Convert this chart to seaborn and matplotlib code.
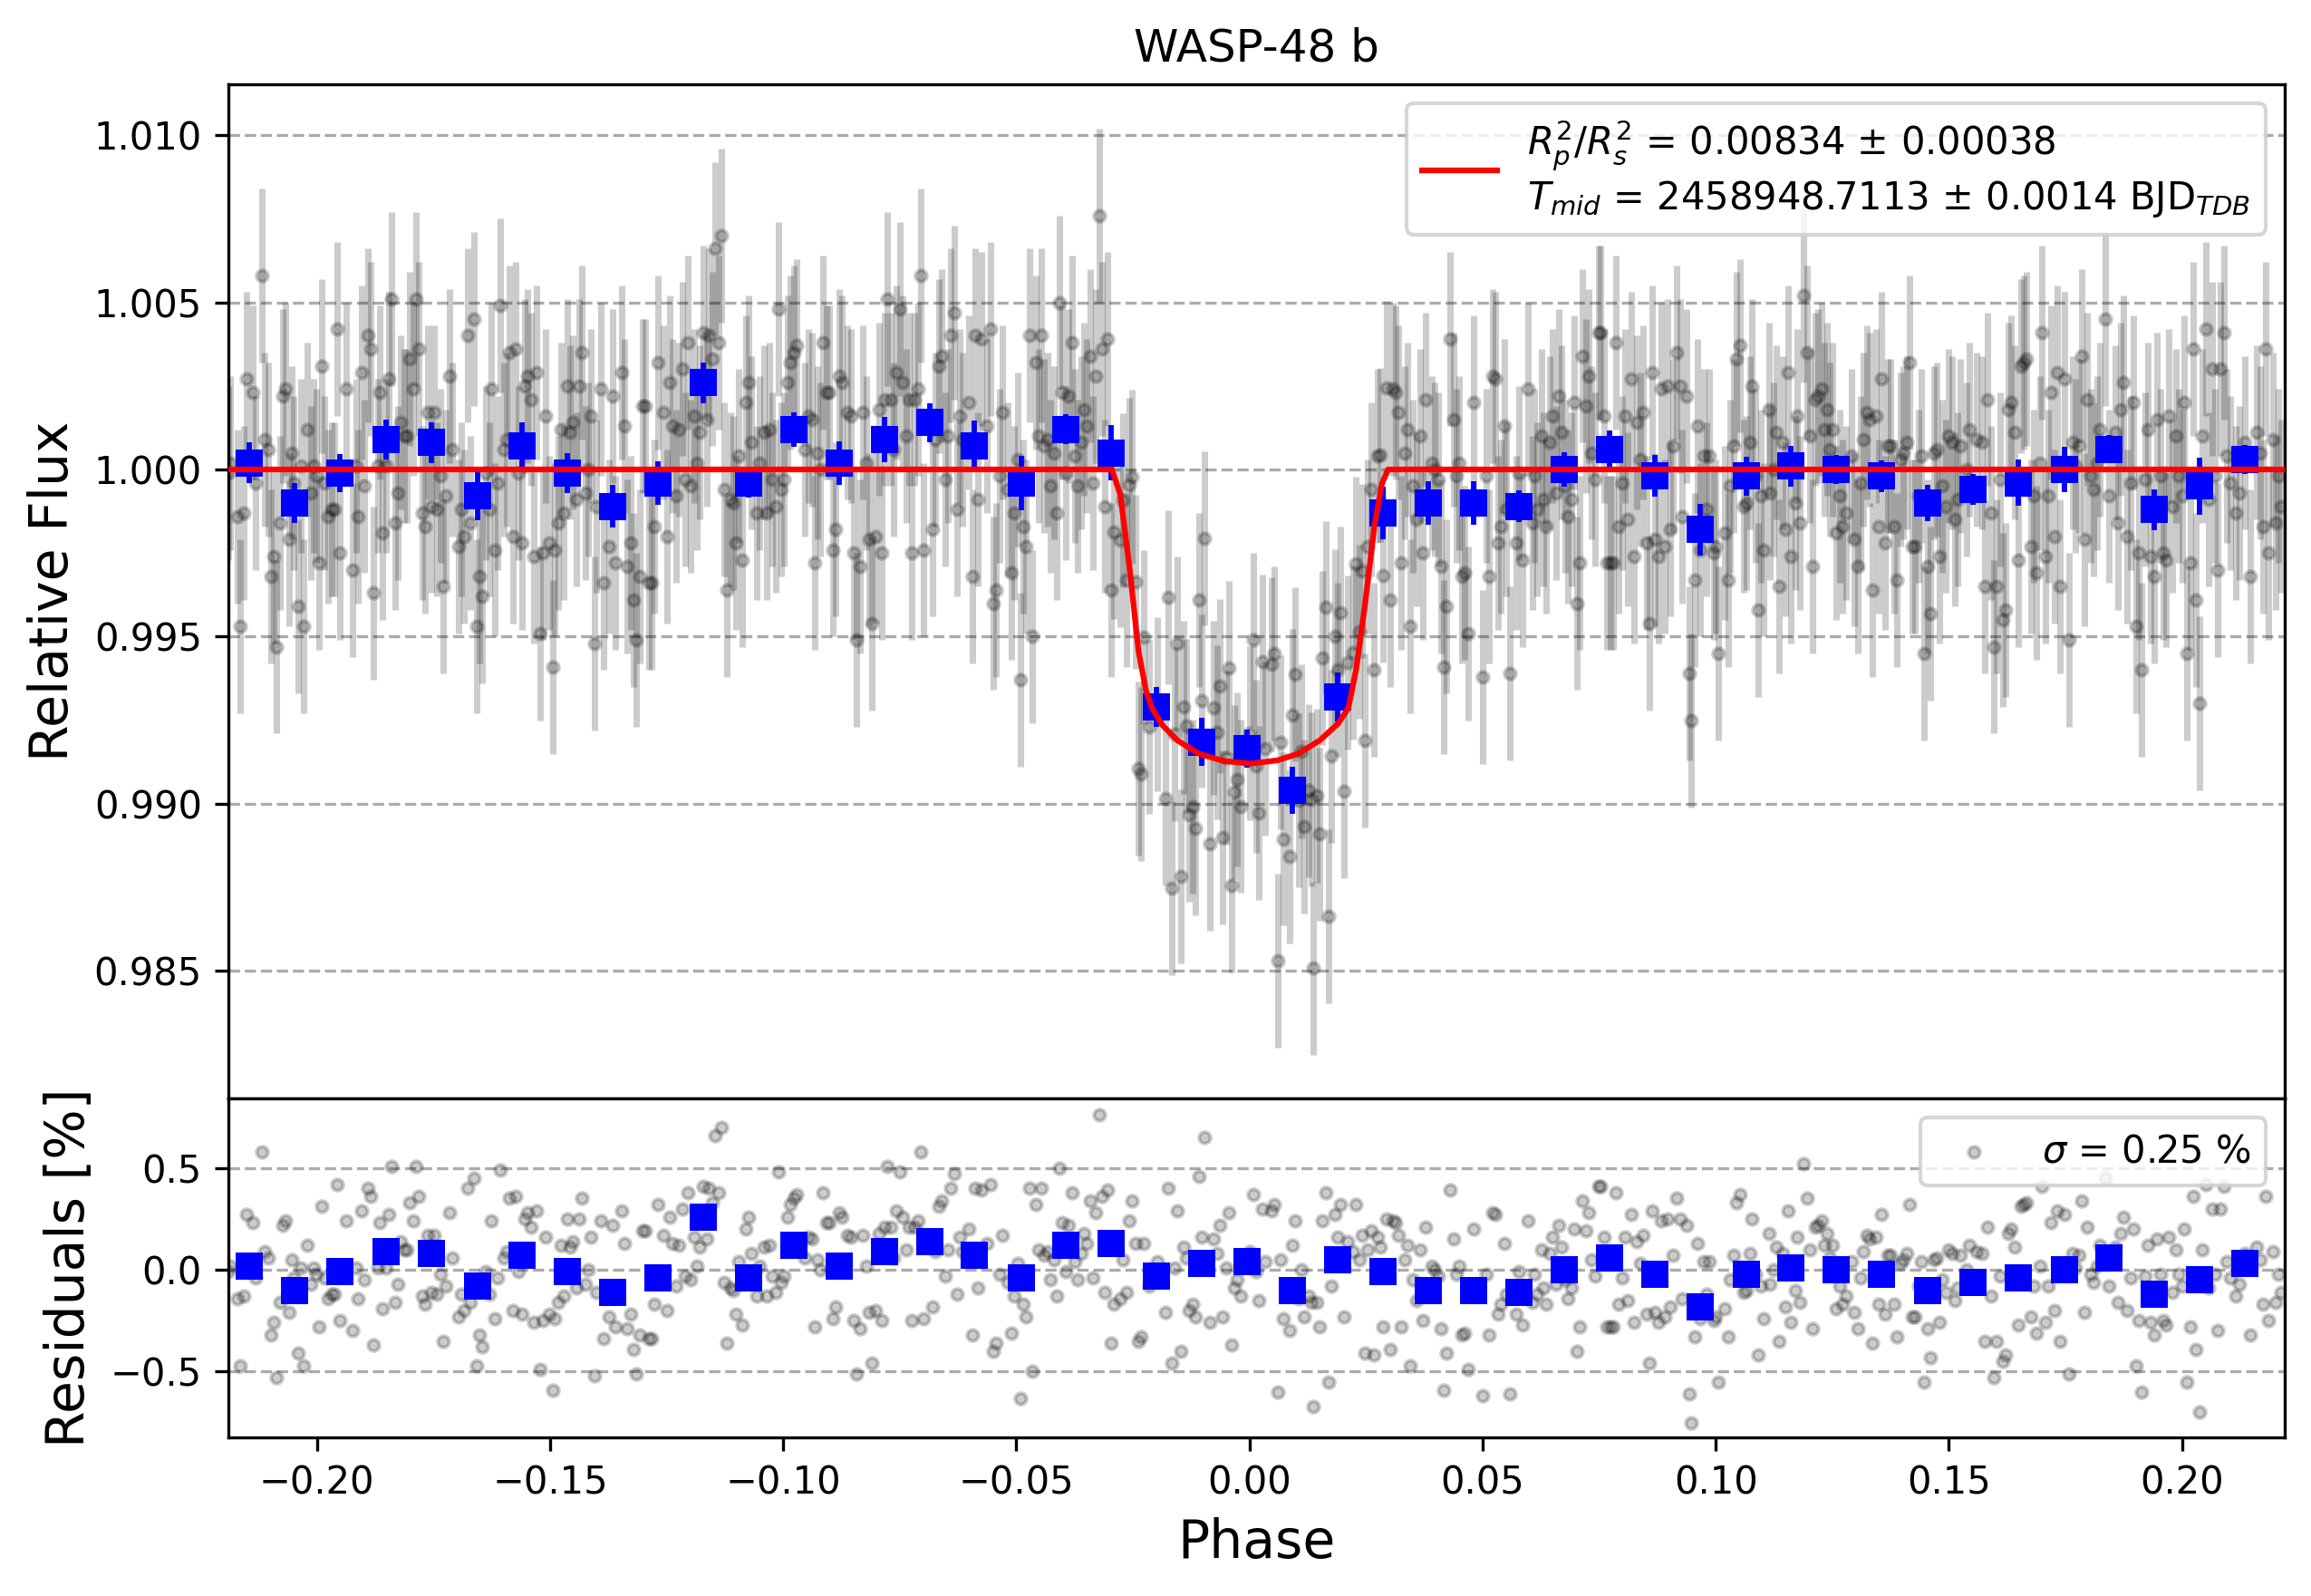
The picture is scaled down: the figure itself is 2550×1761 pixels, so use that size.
import matplotlib
matplotlib.use("Agg")
import numpy as np
import matplotlib.pyplot as plt
import seaborn as sns

# --- raw points, phase + residual in percent ---
phase = [
    -0.2190, -0.2186, -0.2171, -0.2165, -0.2157, -0.2151, -0.2137, -0.2131, -0.2118, -0.2113, -0.2105, -0.2099, -0.2093, -0.2086, -0.2080,
    -0.2074, -0.2067, -0.2059, -0.2054, -0.2049, -0.2041, -0.2035, -0.2029, -0.2021, -0.2013, -0.2008, -0.2002, -0.1995, -0.1989, -0.1983,
    -0.1976, -0.1969, -0.1963, -0.1957, -0.1951, -0.1937, -0.1924, -0.1916, -0.1911, -0.1904, -0.1898, -0.1891, -0.1885, -0.1879, -0.1870,
    -0.1865, -0.1859, -0.1852, -0.1846, -0.1840, -0.1832, -0.1826, -0.1820, -0.1812, -0.1807, -0.1802, -0.1794, -0.1788, -0.1782, -0.1774,
    -0.1768, -0.1762, -0.1754, -0.1749, -0.1743, -0.1735, -0.1729, -0.1723, -0.1716, -0.1710, -0.1697, -0.1691, -0.1684, -0.1677, -0.1670,
    -0.1664, -0.1658, -0.1652, -0.1646, -0.1638, -0.1631, -0.1626, -0.1618, -0.1612, -0.1606, -0.1600, -0.1594, -0.1587, -0.1580, -0.1574,
    -0.1568, -0.1560, -0.1555, -0.1548, -0.1541, -0.1535, -0.1529, -0.1521, -0.1515, -0.1509, -0.1501, -0.1495, -0.1490, -0.1482, -0.1477,
    -0.1470, -0.1463, -0.1458, -0.1452, -0.1443, -0.1437, -0.1431, -0.1424, -0.1418, -0.1412, -0.1405, -0.1400, -0.1392, -0.1385, -0.1373,
    -0.1366, -0.1359, -0.1346, -0.1340, -0.1334, -0.1327, -0.1321, -0.1315, -0.1307, -0.1301, -0.1295, -0.1289, -0.1283, -0.1276, -0.1269,
    -0.1257, -0.1249, -0.1243, -0.1237, -0.1229, -0.1223, -0.1217, -0.1211, -0.1204, -0.1198, -0.1191, -0.1185, -0.1179, -0.1171, -0.1164,
    -0.1159, -0.1152, -0.1146, -0.1139, -0.1133, -0.1127, -0.1121, -0.1114, -0.1108, -0.1101, -0.1095, -0.1088,
    -0.1081, -0.1075, -0.1069, -0.1056, -0.1050, -0.1042, -0.1036, -0.1030, -0.1024, -0.1016, -0.1010, -0.1005, -0.0999, -0.0991, -0.0985,
    -0.0978, -0.0972, -0.0953, -0.0946, -0.0938, -0.0932, -0.0927, -0.0920, -0.0914, -0.0908, -0.0902, -0.0894, -0.0888, -0.0880, -0.0874,
    -0.0862, -0.0855, -0.0849, -0.0842, -0.0836, -0.0830, -0.0822, -0.0815, -0.0809, -0.0802, -0.0795, -0.0789, -0.0783, -0.0777, -0.0770,
    -0.0763, -0.0757, -0.0750, -0.0743, -0.0737, -0.0730, -0.0725, -0.0719, -0.0711, -0.0705, -0.0699, -0.0679, -0.0673, -0.0666, -0.0660,
    -0.0653, -0.0647, -0.0641, -0.0633, -0.0627, -0.0621, -0.0615, -0.0602, -0.0595, -0.0589, -0.0583, -0.0575, -0.0563, -0.0556, -0.0550,
    -0.0544, -0.0536, -0.0530, -0.0518, -0.0511, -0.0505, -0.0497, -0.0492, -0.0486, -0.0479, -0.0472, -0.0466, -0.0458, -0.0452, -0.0446,
    -0.0440, -0.0432, -0.0427, -0.0419, -0.0414, -0.0408, -0.0401, -0.0394, -0.0388, -0.0381, -0.0374, -0.0368, -0.0360, -0.0355, -0.0349,
    -0.0342, -0.0336, -0.0330, -0.0322, -0.0316, -0.0310, -0.0304, -0.0297, -0.0291, -0.0278, -0.0271, -0.0264, -0.0258, -0.0252, -0.0244,
    -0.0238, -0.0233, -0.0226, -0.0215, -0.0197, -0.0180, -0.0174, -0.0167, -0.0161, -0.0155, -0.0147, -0.0142, -0.0136, -0.0129, -0.0122,
    -0.0116, -0.0108, -0.0103, -0.0097, -0.0084, -0.0077, -0.0069, -0.0064, -0.0058, -0.0050, -0.0044, -0.0038, -0.0032, -0.0026, -0.0019,
    0.0000, 0.0008, 0.0015, 0.0020, 0.0027, 0.0034,
    0.0047, 0.0053, 0.0060, 0.0067, 0.0072, 0.0086, 0.0092, 0.0098, 0.0106, 0.0112, 0.0118, 0.0127, 0.0132, 0.0137, 0.0145,
    0.0150, 0.0156, 0.0164, 0.0170, 0.0176, 0.0183, 0.0190, 0.0195, 0.0203, 0.0210, 0.0223, 0.0228, 0.0235, 0.0241, 0.0248,
    0.0254, 0.0261, 0.0267, 0.0274, 0.0281, 0.0286, 0.0295, 0.0301, 0.0307, 0.0313, 0.0319, 0.0325, 0.0333, 0.0339, 0.0344,
    0.0351, 0.0359, 0.0365, 0.0372, 0.0378, 0.0392, 0.0398, 0.0404, 0.0411, 0.0417, 0.0423, 0.0431, 0.0437, 0.0443, 0.0450,
    0.0456, 0.0462, 0.0469, 0.0481, 0.0501, 0.0508, 0.0514, 0.0521, 0.0527, 0.0533, 0.0539, 0.0547, 0.0551, 0.0559, 0.0572,
    0.0578, 0.0586, 0.0597, 0.0606, 0.0611, 0.0617, 0.0626, 0.0631, 0.0637, 0.0643, 0.0650, 0.0657, 0.0664, 0.0670, 0.0677,
    0.0683, 0.0690, 0.0696, 0.0703, 0.0708, 0.0714, 0.0722, 0.0728, 0.0734, 0.0742, 0.0748, 0.0752, 0.0761, 0.0766, 0.0774,
    0.0780, 0.0786, 0.0792, 0.0800, 0.0806, 0.0812, 0.0819, 0.0824, 0.0831, 0.0838, 0.0844, 0.0851, 0.0858, 0.0864, 0.0870,
    0.0878, 0.0883, 0.0890, 0.0896, 0.0903, 0.0909, 0.0916, 0.0923, 0.0928, 0.0937, 0.0943, 0.0948, 0.0955, 0.0961, 0.0967,
    0.0974, 0.0980, 0.0986, 0.0995, 0.1000, 0.1006, 0.1019, 0.1026, 0.1031, 0.1039, 0.1045, 0.1053, 0.1059, 0.1065, 0.1073,
    0.1078, 0.1085, 0.1091, 0.1097, 0.1103,
    0.1114, 0.1117, 0.1123, 0.1130, 0.1136, 0.1143, 0.1149, 0.1156, 0.1161, 0.1170, 0.1175, 0.1181, 0.1188, 0.1195, 0.1201,
    0.1208, 0.1213, 0.1219, 0.1227, 0.1233, 0.1239, 0.1245, 0.1251, 0.1258, 0.1265, 0.1272, 0.1280, 0.1291, 0.1297, 0.1305,
    0.1310, 0.1317, 0.1324, 0.1330, 0.1336, 0.1344, 0.1350, 0.1356, 0.1363, 0.1369, 0.1375, 0.1383, 0.1389, 0.1396, 0.1402,
    0.1409, 0.1416, 0.1422, 0.1428, 0.1434, 0.1441, 0.1447, 0.1454, 0.1460, 0.1467, 0.1474, 0.1480, 0.1486, 0.1494, 0.1500,
    0.1506, 0.1512, 0.1518, 0.1525, 0.1538, 0.1544, 0.1559, 0.1571, 0.1577, 0.1583, 0.1590, 0.1596, 0.1602, 0.1610, 0.1616,
    0.1622, 0.1628, 0.1634, 0.1641, 0.1649, 0.1655, 0.1660, 0.1667, 0.1675, 0.1681, 0.1687, 0.1695, 0.1700, 0.1707, 0.1713,
    0.1719, 0.1727, 0.1733, 0.1739, 0.1747, 0.1758, 0.1765, 0.1771, 0.1778, 0.1785, 0.1791, 0.1797, 0.1804, 0.1811, 0.1817,
    0.1824, 0.1836, 0.1843, 0.1857, 0.1863, 0.1869, 0.1875, 0.1882, 0.1889, 0.1895, 0.1902, 0.1907, 0.1913, 0.1921, 0.1927,
    0.1933, 0.1941, 0.1947, 0.1953, 0.1960, 0.1965, 0.1972, 0.1980, 0.1986, 0.1992, 0.2000, 0.2005, 0.2011, 0.2018, 0.2024,
    0.2030, 0.2038, 0.2043, 0.2051, 0.2057, 0.2064, 0.2071, 0.2077, 0.2083, 0.2089, 0.2096, 0.2103, 0.2116, 0.2122, 0.2135,
    0.2147, 0.2160, 0.2168, 0.2174, 0.2180, 0.2186, 0.2194, 0.2200, 0.2206, 0.2213,
]
resid = [
    -0.01, 0.02, -0.14, -0.47, -0.13, 0.27, 0.23, -0.04, 0.58, 0.09, 0.06, -0.32, -0.26, -0.53, -0.16,
    0.22, 0.24, -0.21, 0.05, -0.04, -0.41, 0.01, -0.47, 0.12, -0.07, 0.01, -0.02, -0.28, 0.31, -0.04,
    -0.14, -0.12, -0.12, 0.42, -0.25, 0.24, -0.30, 0.01, -0.14, 0.29, -0.05, 0.40, 0.36, -0.37, 0.01,
    0.23, -0.19, 0.01, 0.27, 0.51, -0.16, -0.07, 0.14, 0.10, 0.10, 0.33, 0.24, 0.51, 0.36, -0.13,
    -0.17, 0.17, -0.11, 0.17, -0.12, -0.02, -0.35, -0.08, 0.28, 0.06, -0.23, -0.12, -0.20, 0.40, -0.16,
    0.45, -0.47, -0.32, -0.38, -0.01, -0.12, 0.24, -0.24, -0.04, 0.49, 0.06, 0.09, 0.35, -0.20, 0.36,
    -0.01, -0.22, 0.25, 0.28, 0.21, -0.26, 0.29, -0.49, -0.25, 0.16, -0.22, -0.59, -0.24, -0.16, 0.12,
    -0.13, 0.25, 0.11, 0.14, -0.09, 0.25, 0.35, -0.07, 0.00, 0.16, -0.52, -0.11, 0.24, -0.34, -0.23,
    0.22, -0.28, 0.29, 0.13, -0.29, -0.22, -0.39, -0.51, -0.32, 0.19, 0.19, -0.34, -0.34, -0.17, 0.32,
    0.17, -0.20, 0.26, 0.13, -0.08, 0.12, 0.30, -0.03, 0.38, -0.05, 0.16, 0.02, 0.11, 0.41, 0.15,
    0.40, 0.33, 0.66, 0.38, 0.70, -0.06, -0.36, -0.09, -0.10, -0.22, 0.04, -0.27,
    0.20, 0.26, 0.08, -0.13, 0.02, 0.11, -0.13, 0.12, -0.03, -0.11, 0.48, -0.06, -0.03, 0.26, 0.32,
    0.35, 0.37, 0.06, 0.16, 0.15, -0.28, 0.05, 0.00, 0.38, 0.23, 0.23, -0.24, -0.18, 0.28, 0.26,
    0.17, 0.16, -0.25, -0.51, -0.29, 0.17, 0.02, -0.21, -0.46, -0.20, 0.18, -0.25, 0.21, 0.51, 0.21,
    0.06, 0.29, 0.48, 0.26, 0.10, 0.21, -0.25, 0.21, 0.24, 0.58, -0.24, -0.18, 0.09, 0.31, 0.34,
    -0.03, 0.10, 0.40, 0.47, -0.12, 0.16, 0.09, 0.20, -0.32, 0.40, -0.09, 0.39, 0.13, 0.42, -0.40,
    -0.36, -0.02, 0.17, -0.06, -0.31, -0.13, 0.03, -0.63, -0.17, -0.23, 0.40, -0.50, 0.32, 0.10, 0.40,
    0.07, 0.09, -0.05, 0.05, -0.13, 0.50, 0.23, -0.01, 0.22, 0.38, 0.04, -0.05, 0.08, 0.18, 0.13,
    0.34, -0.04, 0.28, 0.76, 0.36, -0.11, 0.39, -0.36, -0.17, -0.14, 0.05, -0.11, 0.24, 0.34, 0.13,
    -0.35, -0.33, 0.13, -0.08, 0.04, -0.21, 0.40, -0.46, 0.01, 0.29, -0.40, 0.11, 0.06, -0.20, -0.17,
    -0.23, 0.46, 0.16, 0.65, -0.26, 0.15, 0.08, 0.22, -0.23, 0.01, 0.28, -0.37, -0.09, -0.05, -0.13,
    0.09, 0.37, -0.01, -0.15, 0.30, 0.04,
    0.29, 0.32, -0.60, 0.05, -0.24, -0.30, 0.12, 0.24, -0.14, 0.00, -0.23, -0.13, -0.16, -0.67, -0.16,
    -0.28, 0.24, 0.38, -0.55, -0.08, 0.27, 0.16, 0.32, -0.23, 0.14, 0.09, 0.32, 0.05, 0.17, -0.41,
    0.10, 0.19, -0.42, 0.16, 0.11, -0.28, 0.25, -0.39, 0.24, 0.23, 0.17, -0.28, 0.05, 0.12, -0.47,
    -0.05, -0.15, 0.10, -0.25, 0.21, 0.02, 0.00, -0.03, -0.29, -0.59, -0.41, 0.39, 0.15, -0.02, 0.02,
    -0.32, -0.31, -0.49, 0.20, -0.62, -0.02, -0.32, 0.28, 0.27, -0.22, -0.17, 0.13, -0.12, -0.61, -0.22,
    -0.01, -0.27, 0.24, -0.16, -0.02, -0.12, 0.10, -0.09, -0.17, 0.08, 0.16, -0.07, 0.22, 0.11, -0.05,
    -0.14, -0.09, 0.20, -0.40, -0.28, 0.34, 0.19, 0.28, 0.05, -0.03, 0.41, 0.41, 0.16, -0.28, -0.28,
    -0.28, 0.38, -0.17, -0.04, 0.16, -0.15, 0.27, -0.26, 0.14, 0.03, 0.17, -0.22, -0.46, 0.29, -0.21,
    -0.26, 0.24, -0.23, 0.25, -0.18, 0.07, 0.35, 0.25, -0.14, 0.22, -0.61, -0.75, -0.33, 0.13, -0.24,
    0.04, -0.12, 0.04, -0.25, -0.23, -0.55, -0.19, -0.33, -0.05, 0.07, 0.33, 0.37, -0.11, -0.10, 0.08,
    0.25, -0.02, -0.42, -0.08, -0.24,
    0.18, -0.07, 0.00, 0.11, -0.35, 0.08, -0.18, 0.29, -0.26, -0.10, 0.16, -0.16, 0.52, 0.35, 0.10,
    -0.29, 0.21, 0.22, 0.24, 0.12, 0.18, 0.06, 0.12, -0.19, -0.08, -0.17, -0.13, 0.04, -0.21, -0.29,
    -0.04, 0.09, 0.17, 0.15, -0.36, 0.16, -0.17, 0.27, -0.22, 0.07, 0.07, -0.17, -0.33, 0.03, 0.05,
    0.08, 0.32, -0.23, -0.23, -0.08, 0.04, -0.55, -0.29, -0.43, 0.05, 0.06, -0.26, -0.05, -0.11, 0.10,
    0.08, -0.15, -0.09, 0.07, 0.00, 0.12, 0.09, 0.08, -0.35, 0.21, -0.13, -0.53, -0.35, -0.03, -0.45,
    -0.42, 0.18, 0.20, 0.11, -0.27, 0.31, 0.32, 0.33, -0.23, -0.08, -0.31, 0.02, 0.41, -0.26, -0.08,
    0.23, -0.20, 0.29, -0.35, 0.27, -0.51, 0.08, 0.01, 0.07, 0.34, -0.21, 0.21, -0.02, -0.06, 0.02,
    0.12, 0.45, -0.08, 0.11, -0.16, 0.18, 0.26, -0.20, -0.04, 0.20, -0.47, -0.25, -0.60, -0.03, 0.12,
    -0.26, -0.32, 0.15, -0.02, -0.25, -0.27, 0.16, -0.11, 0.10, -0.02, -0.08, 0.20, -0.55, -0.28, 0.36,
    -0.39, -0.70, 0.10, 0.42, -0.09, 0.30, -0.02, -0.30, 0.30, 0.41, 0.04, -0.04, -0.13, -0.07, 0.08,
    -0.32, 0.11, 0.05, -0.17, 0.36, -0.25, 0.09, -0.16, -0.02, -0.11,
]
point_err = 0.0026

# binned points
bin_phase = [
    -0.2145, -0.2048, -0.1951, -0.1852, -0.1754, -0.1655, -0.1560, -0.1463, -0.1365, -0.1269, -0.1171, -0.1074,
    -0.0977, -0.0880, -0.0783, -0.0685, -0.0590, -0.0490, -0.0394, -0.0297, -0.0200, -0.0102, -0.0005,
    0.0092, 0.0190, 0.0286, 0.0384, 0.0481, 0.0578, 0.0675, 0.0773, 0.0870, 0.0966, 0.1065, 0.1161,
    0.1259, 0.1356, 0.1455, 0.1552, 0.1649, 0.1747, 0.1843, 0.1941, 0.2038, 0.2135,
]
bin_flux = [
    1.0002, 0.9990, 0.9999, 1.0009, 1.0008, 0.9992, 1.0007, 0.9999, 0.9989, 0.9996, 1.0026, 0.9996,
    1.0012, 1.0002, 1.0009, 1.0014, 1.0007, 0.9996, 1.0012, 1.0005, 0.9929, 0.99185, 0.99165,
    0.9904, 0.9932, 0.9987, 0.9990, 0.9990, 0.9989, 1.0000, 1.0006, 0.9998, 0.9982, 0.9998, 1.0001,
    1.0000, 0.9998, 0.9990, 0.9994, 0.9996, 1.0000, 1.0006, 0.9988, 0.9995, 1.0003,
]
bin_err = [
    0.00060, 0.00060, 0.00057, 0.00060, 0.00060, 0.00071, 0.00071, 0.00060, 0.00064, 0.00065, 0.00061, 0.00045,
    0.00051, 0.00065, 0.00068, 0.00058, 0.00077, 0.00081, 0.00044, 0.00082, 0.00059, 0.00071, 0.00056,
    0.00070, 0.00074, 0.00078, 0.00066, 0.00066, 0.00048, 0.00051, 0.00057, 0.00062, 0.00078, 0.00058, 0.00061,
    0.00043, 0.00047, 0.00055, 0.00047, 0.00069, 0.00067, 0.00042, 0.00061, 0.00085, 0.00044,
]
bin_resid = [
    0.02, -0.10, -0.01, 0.09, 0.08, -0.08, 0.07, -0.01, -0.11, -0.04, 0.26, -0.04,
    0.12, 0.02, 0.09, 0.14, 0.07, -0.04, 0.12, 0.13, -0.03, 0.03, 0.04,
    -0.10, 0.05, -0.01, -0.10, -0.10, -0.11, 0.00, 0.06, -0.02, -0.18, -0.02, 0.01,
    0.00, -0.02, -0.10, -0.06, -0.04, 0.00, 0.06, -0.12, -0.05, 0.03,
]

# transit model
model_phase = [-0.2190, -0.0295, -0.0277, -0.0257, -0.0238, -0.0222, -0.0209, -0.0186, -0.0154, -0.0109, -0.0056,
               0.0002, 0.0060, 0.0105, 0.0151, 0.0190, 0.0212, 0.0229, 0.0248, 0.0268, 0.0284, 0.0297, 0.2220]
model_flux = [1.0, 1.0, 0.99924, 0.99703, 0.99456, 0.99339, 0.99286, 0.99234, 0.99189, 0.99150, 0.99128,
              0.9912, 0.9913, 0.9915, 0.9919, 0.9924, 0.99286, 0.99404, 0.99599, 0.99833, 0.99957, 1.0, 1.0]

# flux = model + residual, that is how the lower panel is defined
flux = np.interp(phase, model_phase, model_flux) + np.array(resid) / 100

fig = plt.figure(figsize=(8.5, 5.87), dpi=300)
ax = fig.add_axes([0.0988, 0.3118, 0.8898, 0.6354])
ax_res = fig.add_axes([0.0988, 0.0994, 0.8898, 0.2124], sharex=ax)

# top panel
ax.errorbar(phase, flux, yerr=point_err, fmt="none", ecolor="k", elinewidth=1.7, alpha=0.2, zorder=2)
sns.scatterplot(x=phase, y=flux, ax=ax, color="k", alpha=0.2, s=9, linewidth=1.0, edgecolor="k", zorder=2.1)
ax.errorbar(bin_phase, bin_flux, yerr=bin_err, fmt="none", ecolor="blue", elinewidth=1.4, zorder=3)
sns.scatterplot(x=bin_phase, y=bin_flux, ax=ax, color="blue", marker="s", s=49, linewidth=0, zorder=3.1)
label = ("$R_{p}^{2}/R_{s}^{2}$ = 0.00834 $\\pm$ 0.00038\n"
         "$T_{mid}$ = 2458948.7113 $\\pm$ 0.0014 BJD$_{TDB}$")
sns.lineplot(x=model_phase, y=model_flux, ax=ax, color="red", lw=1.5, label=label, zorder=4, sort=False, errorbar=None)
ax.set_xlim(-0.2190, 0.2220)
ax.set_ylim(0.98119, 1.01152)
ax.set_yticks([0.985, 0.990, 0.995, 1.000, 1.005, 1.010])
ax.set_yticklabels(["0.985", "0.990", "0.995", "1.000", "1.005", "1.010"])
ax.tick_params(axis="x", bottom=False, labelbottom=False)
ax.grid(True, axis="y", ls="--", color="k", alpha=0.33, lw=0.8)
ax.set_ylabel("Relative Flux", fontsize=14)
ax.set_title("WASP-48 b", fontsize=12)
ax.legend(loc="upper right", fontsize=10)

# residuals
sns.scatterplot(x=phase, y=resid, ax=ax_res, color="k", alpha=0.2, s=9, linewidth=1.0, edgecolor="k",
                zorder=2.1, label="$\\sigma$ = 0.25 %")
sns.scatterplot(x=bin_phase, y=bin_resid, ax=ax_res, color="blue", marker="s", s=49, linewidth=0, zorder=3.1)
ax_res.set_ylim(-0.823, 0.842)
ax_res.set_yticks([-0.5, 0.0, 0.5])
ax_res.set_xticks([-0.20, -0.15, -0.10, -0.05, 0.00, 0.05, 0.10, 0.15, 0.20])
ax_res.grid(True, axis="y", ls="--", color="k", alpha=0.33, lw=0.8)
ax_res.set_xlabel("Phase", fontsize=14)
ax_res.set_ylabel("Residuals [%]", fontsize=14)
ax_res.legend(loc="upper right", fontsize=10)

fig.savefig("out.png", dpi=300)
